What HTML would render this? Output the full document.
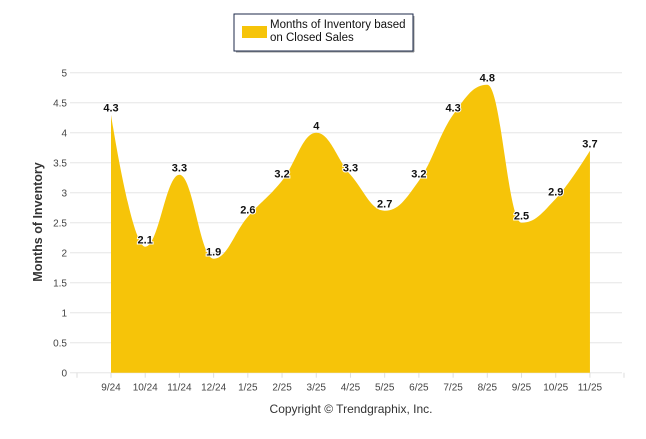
<!DOCTYPE html>
<html><head><meta charset="utf-8"><style>
body{margin:0;background:#fff;width:646px;height:434px;overflow:hidden}
svg{font-family:"Liberation Sans",Arial,sans-serif}
</style></head><body>
<svg id="c" width="646" height="434" xmlns="http://www.w3.org/2000/svg">
<rect x="234" y="14" width="179" height="37" fill="#fff" stroke="#1c2a4a" stroke-width="1"/>
<rect x="236" y="16" width="177" height="35" fill="none" stroke="#aab" stroke-width="0" />
<line x1="236" y1="52" x2="414" y2="52" stroke="#999" stroke-width="1"/>
<line x1="414" y1="16" x2="414" y2="52" stroke="#999" stroke-width="1"/>
<rect x="242" y="26" width="25" height="12" fill="#f6c409"/>
<text x="270" y="28" font-size="11.5" fill="#111">Months of Inventory based</text>
<text x="270" y="41" font-size="11.5" fill="#111">on Closed Sales</text>
<g id="grid"></g>
<path id="area" fill="#f6c409"/>
<g id="lbl"></g>
<text transform="translate(42,222) rotate(-90)" text-anchor="middle" font-size="12.5" font-weight="bold" fill="#333">Months of Inventory</text>
<text x="351" y="413" text-anchor="middle" font-size="12" fill="#333">Copyright © Trendgraphix, Inc.</text>
</svg>
<script>
var NS="http://www.w3.org/2000/svg";
function el(t,a,p,txt){var e=document.createElementNS(NS,t);for(var k in a)e.setAttribute(k,a[k]);if(txt!=null)e.textContent=txt;p.appendChild(e);return e;}
var g=document.getElementById('grid'),L=document.getElementById('lbl');
var y0=372.7,u=60;
for(var i=0;i<=10;i++){var v=i/2,y=y0-u*v;el('line',{x1:70,x2:622,y1:y,y2:y,stroke:'#e6e6e6','stroke-width':1},g);
el('text',{x:67,y:y+4,'text-anchor':'end','font-size':'10',fill:'#444'},g,String(v));}
var vals=[4.3,2.1,3.3,1.9,2.6,3.2,4,3.3,2.7,3.2,4.3,4.8,2.5,2.9,3.7];
var labs=['9/24','10/24','11/24','12/24','1/25','2/25','3/25','4/25','5/25','6/25','7/25','8/25','9/25','10/25','11/25'];
var dx=34.21,x0=111;
for(var i=0;i<=15;i++){var tx=x0-dx/2-6+dx*i; }
for(var i=0;i<15;i++){var x=x0+dx*i;
el('line',{x1:x,x2:x,y1:y0,y2:y0+5,stroke:'#ddd'},g);
el('text',{x:x,y:y0+18,'text-anchor':'middle','font-size':'10',fill:'#444'},g,labs[i]);}
el('line',{x1:77,x2:77,y1:y0,y2:y0+5,stroke:'#ddd'},g);
el('line',{x1:624,x2:624,y1:y0,y2:y0+5,stroke:'#ddd'},g);
var P=vals.map(function(v,i){return {x:x0+dx*i,y:y0-u*v};});
var s=1.5,d=2.5;
for(var i=1;i<P.length-1;i++){var p=P[i],a=P[i-1],b=P[i+1];
var lx=(s*p.x+a.x)/d,ly=(s*p.y+a.y)/d,rx=(s*p.x+b.x)/d,ry=(s*p.y+b.y)/d;
var c=((ry-ly)*(rx-p.x))/(rx-lx)+p.y-ry;ly+=c;ry+=c;
if(ly>a.y&&ly>p.y){ly=Math.max(a.y,p.y);ry=2*p.y-ly;}else if(ly<a.y&&ly<p.y){ly=Math.min(a.y,p.y);ry=2*p.y-ly;}
if(ry>b.y&&ry>p.y){ry=Math.max(b.y,p.y);ly=2*p.y-ry;}else if(ry<b.y&&ry<p.y){ry=Math.min(b.y,p.y);ly=2*p.y-ry;}
p.lx=lx;p.ly=ly;p.rx=rx;p.ry=ry;}
var dd='M'+P[0].x+' '+y0+' L'+P[0].x+' '+P[0].y;
for(var i=1;i<P.length;i++){var a=P[i-1],p=P[i];
dd+=' C'+(a.rx!=null?a.rx:a.x)+' '+(a.ry!=null?a.ry:a.y)+' '+(p.lx!=null?p.lx:p.x)+' '+(p.ly!=null?p.ly:p.y)+' '+p.x+' '+p.y;}
dd+=' L'+P[P.length-1].x+' '+y0+' Z';
document.getElementById('area').setAttribute('d',dd);
P.forEach(function(p,i){el('text',{x:p.x,y:p.y-3,'text-anchor':'middle','font-size':'11','font-weight':'bold',fill:'#111',stroke:'#fff','stroke-width':2,'paint-order':'stroke'},L,String(vals[i]));});
</script>
</body></html>
